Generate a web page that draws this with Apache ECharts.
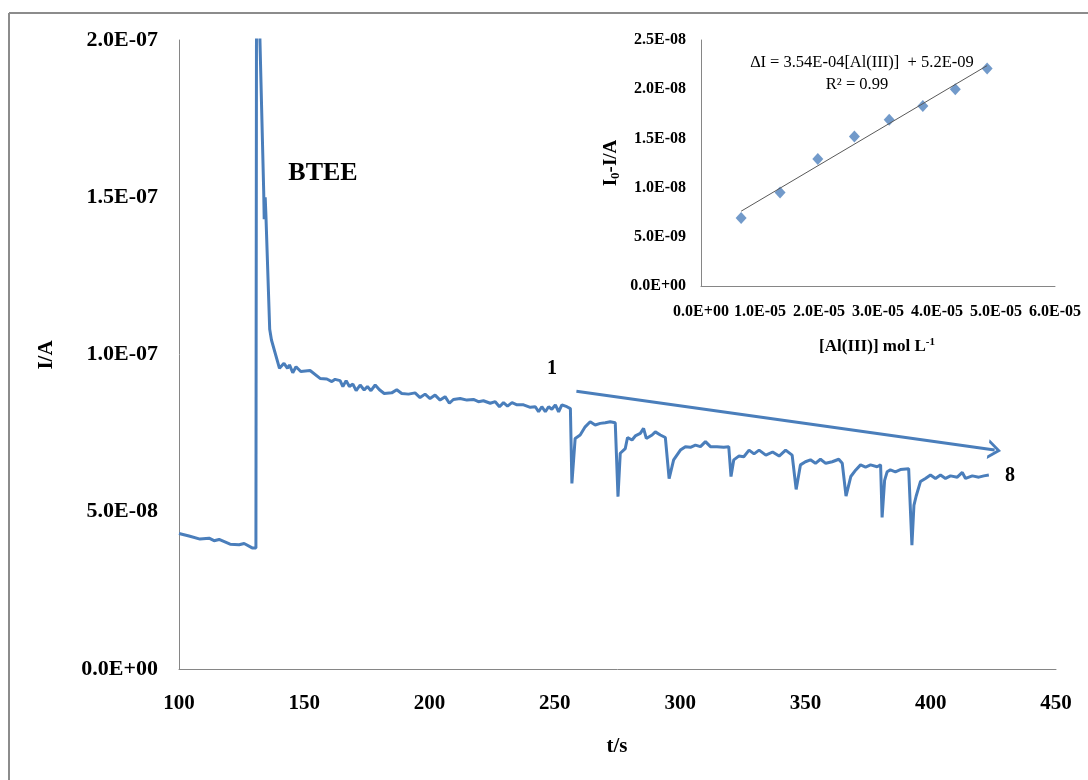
<!DOCTYPE html>
<html>
<head>
<meta charset="utf-8">
<script src="https://cdn.jsdelivr.net/npm/echarts@6/dist/echarts.min.js"></script>
<style>html,body{margin:0;padding:0;background:#fff}#c{width:1088px;height:780px}</style>
</head>
<body>
<div id="c"></div>
<script>
// Main trace: time (s) and current (units of 1e-9 A)
const timeS = [100,104,108.4,112,114,116,120.4,124,126,129.2,130.7,131.0,131.6,132.3,133.8,134.0,134.4,134.7,136.2,136.9,140.1,141.9,143.3,144.1,145.4,146.7,148.6,152.3,156.3,159,161,162.3,164.3,165.4,166.7,168,169.4,170.7,172.3,173.9,175.2,176.6,178.3,180,181.9,184.9,186.9,188.9,191.6,194.2,196.2,198.2,200.2,202.2,204.2,206.2,207.9,209.5,212.2,214.9,217.5,219.5,221.5,224.2,226.2,227.9,229.5,231.1,232.9,234.9,237.5,240.2,242.2,243.5,244.8,246.2,247.5,248.8,250.2,251.5,252.8,254.8,256.2,256.8,258.1,260.1,262.1,264.1,266.1,268.1,270.1,272.1,274.1,274.6,275.2,276.1,278.1,279,280.8,282.1,284.1,285.4,286.5,288.8,290.1,292.1,294.1,294.7,295.6,297.4,300.1,302.1,304.1,306.1,308.1,310.1,312.1,314.7,317.4,319.4,320.3,321.4,323.4,325.4,327.5,329.5,331.5,334.2,336.9,339.5,342.1,344.7,345.4,346.3,348,350,352,354,356,358.1,360.7,363.3,364.7,365.4,366.2,368.1,370.1,372,374,376,378.6,380,380.6,381.6,382.6,383.9,385.9,387.9,391.2,391.9,392.5,393.3,394.2,395.9,397.9,399.9,401.9,403.9,405.9,407.9,410.6,412.6,413.9,416.6,419.2,421.2,423.2];
const currentNA = [43.1,42.3,41.3,41.6,40.8,41.2,39.7,39.5,39.9,38.5,38.5,260,330,200,152,143,150,144,108,104.6,95.6,97.2,95.6,96.7,94.2,96.1,94.6,94.9,92.4,92.2,91.4,92.1,91.7,89.8,91.7,89.8,90.6,88.5,90.3,88.7,89.8,88.5,90.3,88.8,87.6,87.8,88.8,87.6,87.4,87.8,86.3,87.4,86,87.1,85.5,86.6,84.5,85.7,86,85.5,85.7,85,85.3,84.5,85,83.4,84.7,83.6,84.7,84,84,83.2,83.4,81.8,83.4,81.8,83.4,82.6,84,81.8,84,83.4,82.8,59,73.3,74.4,77,78.6,77.6,78.1,78.3,78.6,78.3,78,54.8,68.6,70.1,73.6,72.8,74.1,74.9,76.5,73.3,74.4,75.4,74.4,73.6,73.4,60.5,66.5,69.6,70.7,70.5,71.2,70.7,72.3,70.7,70.7,70.5,70.7,61.2,66.5,67.7,67.5,69.6,68.4,69.6,68,69,67.7,69.6,68,68.2,57.1,64.9,65.9,66.5,65.4,66.7,65.4,65.9,66.7,65.4,65.5,55,61.2,63.3,64.9,64.2,64.9,64.3,64.9,48.2,60,62.7,63.3,62.7,63.4,63.7,63.5,39.4,52,55,59.6,60.6,61.7,60.6,61.7,60.6,61.4,61,62.5,60.6,61.4,61,61.4,61.7];
const yTickLabels = ['0.0E+00','5.0E-08','1.0E-07','1.5E-07','2.0E-07'];
// Arrow annotation endpoints (t, 1e-9 A)
const arrowStart = [258.6, 88.3];
const arrowEnd = [425.5, 69.6];

// Inset calibration: concentration (units of 1e-5 mol/L), I0-I (units of 1e-9 A)
const insetConc = [0.68,1.34,1.98,2.60,3.19,3.76,4.31,4.85];
const insetDeltaI = [6.9,9.5,12.9,15.2,16.9,18.3,20.0,22.1];
const trendConc = [0.68,4.85];
const trendDeltaI = [7.6,22.4];
const insetXTickLabels = ['0.0E+00','1.0E-05','2.0E-05','3.0E-05','4.0E-05','5.0E-05','6.0E-05'];
const insetYTickLabels = ['0.0E+00','5.0E-09','1.0E-08','1.5E-08','2.0E-08','2.5E-08'];

const FONT = '"Liberation Serif", "Times New Roman", serif';
const AXIS_GRAY = '#868686';
const BLUE = '#4a7ebb';

const chart = echarts.init(document.getElementById('c'), null, {renderer:'canvas'});
chart.setOption({
  backgroundColor:'#ffffff',
  animation:false,
  grid:[
    {left:179, right:32, top:40, bottom:111},
    {left:701, right:33, top:40, bottom:494}
  ],
  xAxis:[
    {gridIndex:0, type:'value', min:100, max:450, interval:50,
     axisLine:{show:true, lineStyle:{color:AXIS_GRAY, width:1}},
     axisTick:{show:false}, splitLine:{show:false},
     axisLabel:{margin:24, color:'#000', fontFamily:FONT, fontWeight:'bold', fontSize:21}},
    {gridIndex:1, type:'value', min:0, max:6, interval:1,
     axisLine:{show:true, lineStyle:{color:AXIS_GRAY, width:1}},
     axisTick:{show:false}, splitLine:{show:false},
     axisLabel:{margin:18, color:'#000', fontFamily:FONT, fontWeight:'bold', fontSize:16,
       formatter:v=>insetXTickLabels[Math.round(v)]}}
  ],
  yAxis:[
    {gridIndex:0, type:'value', min:0, max:200, interval:50,
     axisLine:{show:true, lineStyle:{color:AXIS_GRAY, width:1}},
     axisTick:{show:false}, splitLine:{show:false},
     axisLabel:{margin:21, color:'#000', fontFamily:FONT, fontWeight:'bold', fontSize:22,
       formatter:v=>yTickLabels[Math.round(v/50)]}},
    {gridIndex:1, type:'value', min:0, max:25, interval:5,
     axisLine:{show:true, lineStyle:{color:AXIS_GRAY, width:1}},
     axisTick:{show:false}, splitLine:{show:false},
     axisLabel:{margin:15, color:'#000', fontFamily:FONT, fontWeight:'bold', fontSize:16,
       formatter:v=>insetYTickLabels[Math.round(v/5)]}}
  ],
  series:[
    {type:'line', xAxisIndex:0, yAxisIndex:0, showSymbol:false, clip:true,
     data:timeS.map((t,i)=>[t,currentNA[i]]),
     lineStyle:{color:BLUE, width:3}, itemStyle:{color:BLUE},
     markLine:{silent:true, symbol:['none','path://M0,10 L5,0 L10,10 L8.2,10 L5,3.6 L1.8,10 Z'], symbolSize:[20,13],
       label:{show:false}, lineStyle:{color:BLUE, width:3, type:'solid'},
       data:[[{coord:arrowStart},{coord:arrowEnd}]]}},
    {type:'line', xAxisIndex:1, yAxisIndex:1, showSymbol:false,
     data:trendConc.map((x,i)=>[x,trendDeltaI[i]]),
     lineStyle:{color:'#595959', width:1}},
    {type:'scatter', xAxisIndex:1, yAxisIndex:1, symbol:'diamond', symbolSize:[11,12],
     data:insetConc.map((x,i)=>[x,insetDeltaI[i]]),
     itemStyle:{color:'#4f81bd'}}
  ],
  graphic:[
    {type:'line', shape:{x1:9,y1:13,x2:9,y2:780}, style:{stroke:'#8c8c8c', lineWidth:2}},
    {type:'line', shape:{x1:9,y1:13,x2:1088,y2:13}, style:{stroke:'#8c8c8c', lineWidth:2}},
    {type:'text', x:47, y:355, rotation:Math.PI/2,
     style:{text:'I/A', font:'bold 21px '+FONT, fill:'#000', align:'center', verticalAlign:'middle'}},
    {type:'text', x:617, y:747,
     style:{text:'t/s', font:'bold 21px '+FONT, fill:'#000', align:'center', verticalAlign:'middle'}},
    {type:'text', x:323, y:173,
     style:{text:'BTEE', font:'bold 26px '+FONT, fill:'#000', align:'center', verticalAlign:'middle'}},
    {type:'text', x:552, y:369,
     style:{text:'1', font:'bold 20px '+FONT, fill:'#000', align:'center', verticalAlign:'middle'}},
    {type:'text', x:1010, y:476,
     style:{text:'8', font:'bold 20px '+FONT, fill:'#000', align:'center', verticalAlign:'middle'}},
    {type:'text', x:862, y:63,
     style:{text:'\u2206I = 3.54E-04[Al(III)]  + 5.2E-09', font:'16.5px '+FONT, fill:'#000', align:'center', verticalAlign:'middle'}},
    {type:'text', x:857, y:85,
     style:{text:'R\u00b2 = 0.99', font:'16.5px '+FONT, fill:'#000', align:'center', verticalAlign:'middle'}},
    {type:'text', x:611, y:163, rotation:Math.PI/2,
     style:{text:'{a|I}{s|0}{a|-I/A}', align:'center', verticalAlign:'middle',
       rich:{a:{font:'bold 19px '+FONT, fill:'#000'}, s:{font:'bold 13px '+FONT, fill:'#000', padding:[9,0,0,0]}}}},
    {type:'text', x:877, y:347,
     style:{text:'{a|[Al(III)] mol L}{s|-1}', align:'center', verticalAlign:'middle',
       rich:{a:{font:'bold 17px '+FONT, fill:'#000'}, s:{font:'bold 11px '+FONT, fill:'#000', padding:[0,0,9,0]}}}}
  ]
});
</script>
</body>
</html>
